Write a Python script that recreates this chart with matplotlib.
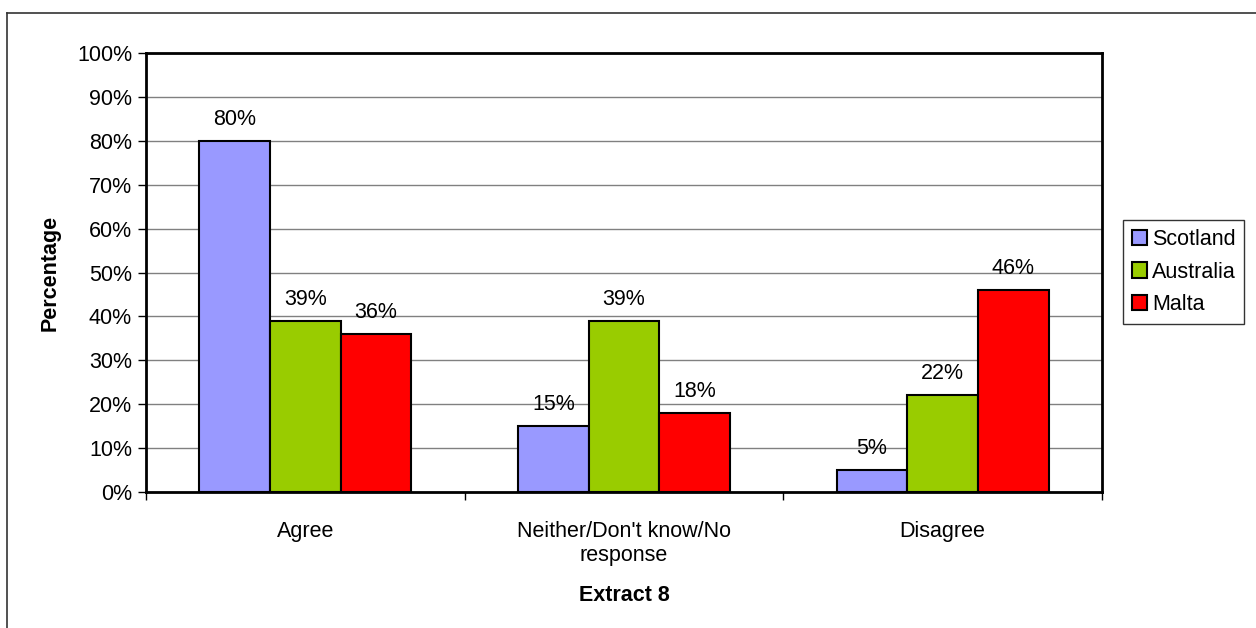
import matplotlib.pyplot as plt
import numpy as np
from matplotlib.lines import Line2D

plt.rcParams['font.family'] = ['Liberation Sans', 'DejaVu Sans']

categories = ['Agree', "Neither/Don't know/No\nresponse", 'Disagree']
series = ['Scotland', 'Australia', 'Malta']
scotland = [80, 15, 5]
australia = [39, 39, 22]
malta = [36, 18, 46]
colors = ['#9999ff', '#99cc00', '#ff0000']
yticks = list(range(0, 101, 10))

FS = 15.5

fig = plt.figure(figsize=(12.56, 6.28), dpi=100)
ax = fig.add_axes([146 / 1256, 1 - 492 / 628, (1102 - 146) / 1256, (492 - 53) / 628])

x = np.arange(len(categories))
w = 0.222
for i, (name, vals) in enumerate(zip(series, [scotland, australia, malta])):
    bars = ax.bar(x + (i - 1) * w, vals, w, color=colors[i], edgecolor='black',
                  linewidth=1.5, label=name, zorder=3)
    for b, v in zip(bars, vals):
        ax.annotate(f'{v}%', (b.get_x() + b.get_width() / 2, v),
                    xytext=(0, 8), textcoords='offset points',
                    ha='center', va='bottom', fontsize=FS)

ax.set_xlim(-0.5, 2.5)
ax.set_ylim(0, 100)
ax.set_yticks(yticks)
ax.set_yticklabels([f'{t}%' for t in yticks], fontsize=FS)
ax.yaxis.grid(True, color='#808080', linewidth=1, zorder=0)
ax.tick_params(axis='y', direction='out', length=6, width=1, pad=4)

# category labels centred, ticks on the group boundaries
ax.set_xticks(x)
ax.set_xticklabels(categories, fontsize=FS, linespacing=1.15)
ax.tick_params(axis='x', length=0, pad=21)
ax.set_xticks([-0.5, 0.5, 1.5, 2.5], minor=True)
ax.tick_params(axis='x', which='minor', direction='out', length=6, width=1)

for s in ax.spines.values():
    s.set_linewidth(2)
    s.set_color('black')

ax.set_ylabel('Percentage', fontsize=FS, fontweight='bold', labelpad=12)
ax.set_xlabel('Extract 8', fontsize=FS, fontweight='bold', labelpad=14)

leg = ax.legend(loc='center left', bbox_to_anchor=(1123 / 1256, 1 - 272 / 628),
                bbox_transform=fig.transFigure, fontsize=FS, frameon=True,
                fancybox=False, edgecolor='black', handlelength=0.7,
                handleheight=0.7, handletextpad=0.25, labelspacing=0.55,
                borderpad=0.4, borderaxespad=0)
leg.get_frame().set_linewidth(1)

# outer chart border
fig.add_artist(Line2D([7 / 1256, 1.0], [1 - 13 / 628, 1 - 13 / 628],
                      transform=fig.transFigure, color='#333333', linewidth=1.2))
fig.add_artist(Line2D([7 / 1256, 7 / 1256], [0.0, 1 - 13 / 628],
                      transform=fig.transFigure, color='#333333', linewidth=1.2))

fig.savefig('out.png', dpi=100)
